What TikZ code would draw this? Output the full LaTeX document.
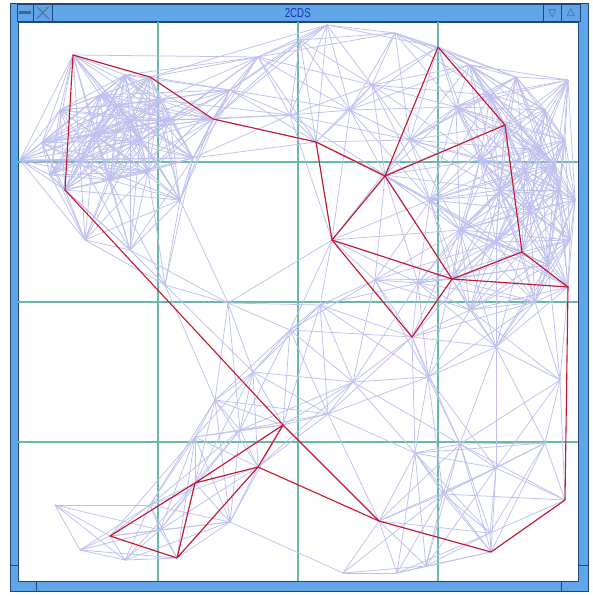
\documentclass[tikz,border=0pt]{standalone}
\usepackage{fontspec}
\newfontfamily\titlefont{Liberation Sans}
\definecolor{meshc}{RGB}{190,193,238}
\definecolor{gridc}{RGB}{105,185,170}
\definecolor{redc}{RGB}{200,20,45}
\definecolor{framec}{RGB}{95,165,232}
\definecolor{framedark}{RGB}{35,70,120}
\definecolor{titletext}{RGB}{30,50,190}
\tikzset{
  mesh/.style={meshc, line width=0.75pt},
  gridline/.style={gridc, line width=1.1pt},
  cds/.style={redc, line width=1.1pt, line join=round, line cap=round},
  winbtn/.style={draw=framedark, line width=0.5pt, fill=framec},
  glyph/.style={draw=framedark!80, line width=0.9pt}
}
\def\meshpts{73/55,150/77,125/75,118/105,42/143,20/160,95/135,148/172,193/158,213/119,%
65/190,110/180,170/120,140/140,85/240,130/250,165/285,100/95,60/110,180/200,%
258/57,327/25,395/33,372/85,316/142,350/110,438/47,516/77,568/80,456/107,%
505/125,540/150,565/140,560/190,530/210,570/240,480/160,385/175,430/200,410/140,%
470/65,545/110,500/190,332/240,452/279,522/252,568/287,496/242,418/283,535/302,%
412/337,496/347,428/377,320/305,228/303,253/372,353/382,375/280,290/330,560/380,%
470/310,283/425,258/467,379/521,491/552,565/500,460/444,415/453,496/468,545/443,%
490/533,426/566,443/494,328/414,343/573,397/573,215/400,240/430,195/483,110/536,%
177/558,55/505,80/550,125/560,195/437,230/522,150/505,160/530,%
160/100,80/160,130/120,50/175,490/95,525/170,555/165,575/200,548/265,460/230,%
230/90,290/115,300/40}
\def\meshr{132}
\begin{document}
\begin{tikzpicture}[x=1pt,y=-1pt]
\useasboundingbox (0,0) rectangle (593,596);
\fill[white] (0,0) rectangle (593,596);
% window frame
\fill[framec] (10,3) rectangle (588,591);
\draw[framedark, line width=0.5pt] (10,3) rectangle (588,591);
\fill[white] (18,22) rectangle (578,581);
\draw[framedark, line width=0.8pt] (18,22) rectangle (578,581);
% resize handle ticks
\draw[framedark, line width=0.5pt] (36,581) -- (36,591) (561,581) -- (561,591)
  (10,565) -- (18,565) (578,565) -- (588,565);
% title bar
\node[winbtn, minimum width=491pt, minimum height=17pt, inner sep=0pt, anchor=north west] (bar) at (52,4) {};
\node[font=\titlefont\fontsize{13}{13}\selectfont, text=titletext, xscale=0.75] (title) at (bar.center) {2CDS};
\node[winbtn, minimum width=16pt, minimum height=17pt, inner sep=0pt, anchor=north west] (bmin) at (17,4) {};
\node[winbtn, minimum width=19pt, minimum height=17pt, inner sep=0pt, anchor=north west] (bclose) at (33,4) {};
\node[winbtn, minimum width=18pt, minimum height=17pt, inner sep=0pt, anchor=north west] (bdown) at (543,4) {};
\node[winbtn, minimum width=19pt, minimum height=17pt, inner sep=0pt, anchor=north west] (bup) at (561,4) {};
\fill[framedark!85] ([xshift=-6pt,yshift=-1pt]bmin.center) rectangle ([xshift=6pt,yshift=1.5pt]bmin.center);
\draw[glyph] ([xshift=-6pt,yshift=-6pt]bclose.center) -- ([xshift=6pt,yshift=6pt]bclose.center)
  ([xshift=-6pt,yshift=6pt]bclose.center) -- ([xshift=6pt,yshift=-6pt]bclose.center);
% down-pointing triangle
\draw[glyph, line width=0.6pt] ([xshift=-3.5pt,yshift=3pt]bdown.center) -- ([xshift=3.5pt,yshift=3pt]bdown.center) -- ([yshift=-4pt]bdown.center) -- cycle;
% up-pointing triangle
\draw[glyph, line width=0.6pt] ([xshift=-3.5pt,yshift=-3pt]bup.center) -- ([xshift=3.5pt,yshift=-3pt]bup.center) -- ([yshift=4pt]bup.center) -- cycle;
% grid
\foreach \g in {158,298,438} {
  \draw[gridline] (\g,22) -- (\g,581);
}
\foreach \g in {162,302,442} {
  \draw[gridline] (18,\g) -- (578,\g);
}
% mesh points
\foreach [count=\i] \x/\y in \meshpts { \coordinate (p\i) at (\x,\y); }
% mesh edges: every pair closer than \meshr
\foreach [count=\i] \xa/\ya in \meshpts {
  \foreach [count=\j] \xb/\yb in \meshpts {
    \ifnum\j>\i
      \pgfmathsetmacro\dd{veclen(\xb-\xa,\yb-\ya)}
      \ifdim\dd pt<\meshr pt
        \draw[mesh] (p\i) -- (p\j);
      \fi
    \fi
  }
}
% a few longer mesh edges
\foreach \a/\b in {2/22,3/21,14/21,10/22,6/9,21/23,1/21,7/10,5/13} {
  \draw[mesh] (p\a) -- (p\b);
}
% red dominating-set edges
\coordinate (A) at (73,55);
\coordinate (B) at (150,77);
\coordinate (C) at (213,119);
\coordinate (D) at (316,142);
\coordinate (E) at (385,176);
\coordinate (F) at (438,47);
\coordinate (G) at (505,125);
\coordinate (H) at (522,252);
\coordinate (I) at (452,279);
\coordinate (J) at (568,287);
\coordinate (K) at (412,337);
\coordinate (L) at (332,240);
\coordinate (M) at (65,190);
\coordinate (N) at (283,425);
\coordinate (O) at (258,467);
\coordinate (P) at (379,521);
\coordinate (Q) at (491,552);
\coordinate (R) at (565,500);
\coordinate (S) at (195,483);
\coordinate (T) at (110,536);
\coordinate (U) at (177,558);
\draw[cds] (M) -- (A) -- (B) -- (C) -- (D) -- (E);
\draw[cds] (M) -- (N) -- (P) -- (Q) -- (R) -- (J) -- (H) -- (G) -- (F) -- (E) -- (G);
\draw[cds] (D) -- (L) -- (E) -- (I) -- (H);
\draw[cds] (L) -- (I) -- (J);
\draw[cds] (L) -- (K) -- (I);
\draw[cds] (N) -- (S) -- (O) -- (N);
\draw[cds] (O) -- (P);
\draw[cds] (O) -- (U) -- (T) -- (S) -- (U);
\end{tikzpicture}
\end{document}
